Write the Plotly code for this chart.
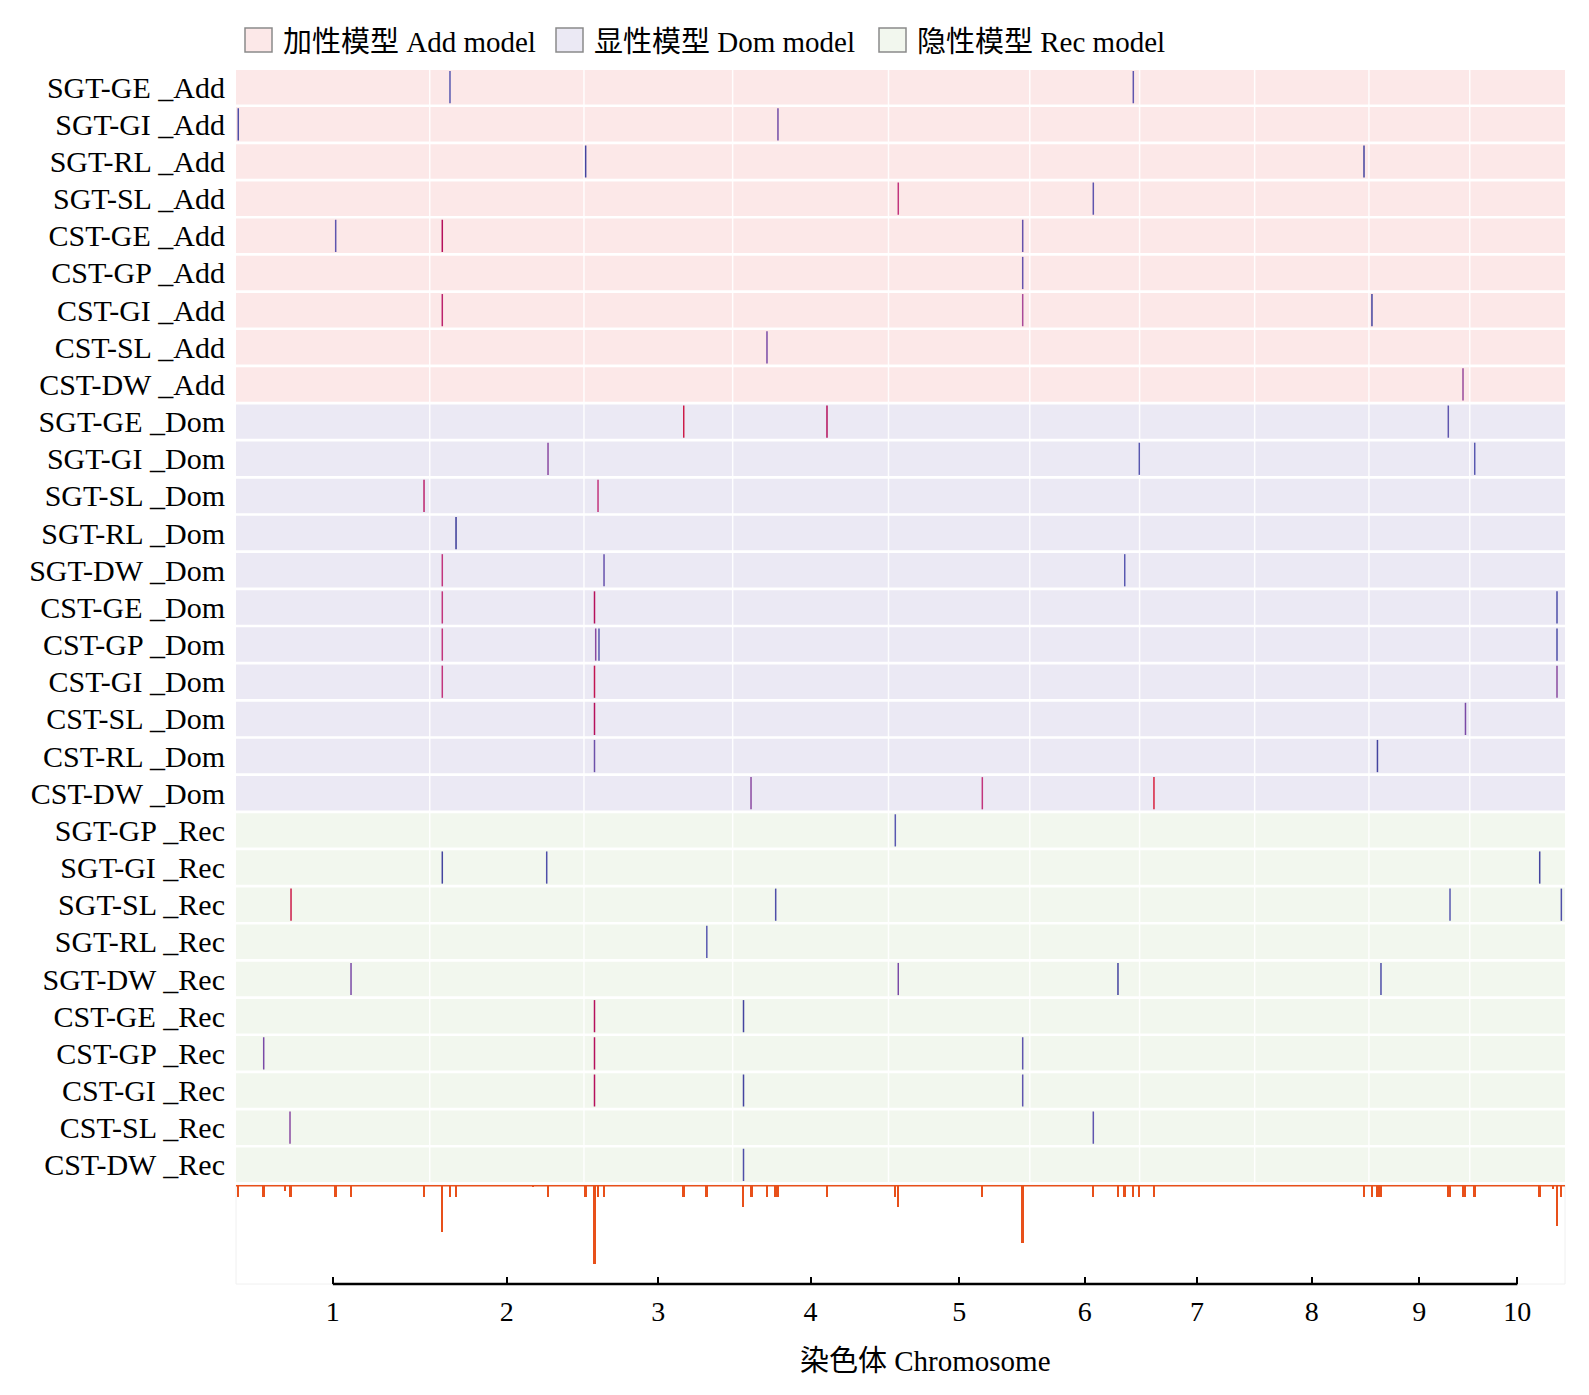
import numpy as np
import plotly.graph_objects as go

# maize B73 chromosome lengths (Mb)
chrom_len = [307.04, 244.44, 235.67, 246.99, 223.90, 174.03, 182.38, 181.12, 159.77, 150.98]
chrom_names = ["1", "2", "3", "4", "5", "6", "7", "8", "9", "10"]

traits = [
    "SGT-GE _Add", "SGT-GI _Add", "SGT-RL _Add", "SGT-SL _Add", "CST-GE _Add",
    "CST-GP _Add", "CST-GI _Add", "CST-SL _Add", "CST-DW _Add",
    "SGT-GE _Dom", "SGT-GI _Dom", "SGT-SL _Dom", "SGT-RL _Dom", "SGT-DW _Dom",
    "CST-GE _Dom", "CST-GP _Dom", "CST-GI _Dom", "CST-SL _Dom", "CST-RL _Dom", "CST-DW _Dom",
    "SGT-GP _Rec", "SGT-GI _Rec", "SGT-SL _Rec", "SGT-RL _Rec", "SGT-DW _Rec",
    "CST-GE _Rec", "CST-GP _Rec", "CST-GI _Rec", "CST-SL _Rec", "CST-DW _Rec",
]
trait_model = ["Add"] * 9 + ["Dom"] * 11 + ["Rec"] * 10

# significant SNPs: row of trait, chromosome, position (Mb), colour score
mark_row = [0, 0, 1, 1, 2, 2, 3, 3, 4, 4, 4, 5, 6, 6, 6, 7, 8,
            9, 9, 9, 10, 10, 10, 11, 11, 12, 13, 13, 13, 14, 14, 14,
            15, 15, 15, 15, 16, 16, 16, 17, 17, 18, 18, 19, 19, 19,
            20, 21, 21, 21, 22, 22, 22, 22, 23, 24, 24, 24, 24,
            25, 25, 26, 26, 26, 27, 27, 27, 28, 28, 29]
mark_chr = [2, 6, 1, 4, 3, 8, 5, 6, 1, 2, 5, 5, 2, 5, 9, 4, 9,
            3, 4, 9, 2, 6, 10, 1, 3, 2, 2, 3, 6, 2, 3, 10,
            2, 3, 3, 10, 2, 3, 10, 3, 9, 3, 9, 4, 5, 7,
            5, 2, 2, 10, 1, 4, 9, 10, 3, 1, 5, 6, 9,
            3, 4, 1, 3, 5, 3, 4, 5, 1, 6, 4]
mark_pos = [32.1, 164.1, 3.6, 71.8, 2.7, 173.3, 15.5, 100.7, 158.0, 19.9, 212.7, 212.7,
            19.9, 212.7, 4.8, 54.4, 149.1,
            158.1, 149.5, 125.8, 187.5, 173.6, 7.9, 298.0, 22.3, 41.7, 19.9, 31.8, 150.5,
            19.9, 16.7, 138.3, 19.9, 18.6, 23.8, 138.3, 19.9, 16.7, 138.3, 16.7, 153.0,
            16.7, 13.5, 29.1, 148.7, 22.8,
            10.8, 19.9, 185.4, 110.9, 87.2, 68.2, 128.5, 145.2, 194.7, 182.3, 15.5, 139.8, 19.1,
            16.7, 17.2, 43.9, 16.7, 212.7, 16.7, 17.2, 212.7, 85.6, 100.7, 17.2]
mark_score = [0.2, 0.25, 0.15, 0.4, 0.1, 0.1, 0.75, 0.25, 0.25, 0.85, 0.3, 0.3,
              0.8, 0.6, 0.1, 0.45, 0.55,
              0.95, 0.85, 0.25, 0.5, 0.2, 0.2, 0.8, 0.75, 0.05, 0.75, 0.3, 0.2,
              0.75, 0.85, 0.15, 0.75, 0.5, 0.2, 0.15, 0.75, 0.9, 0.5, 0.85, 0.45,
              0.35, 0.1, 0.5, 0.75, 1.0,
              0.2, 0.1, 0.15, 0.1, 0.95, 0.15, 0.2, 0.15, 0.2, 0.45, 0.45, 0.1, 0.15,
              0.85, 0.1, 0.45, 0.85, 0.25, 0.85, 0.1, 0.25, 0.5, 0.25, 0.15]

# SNP density track under the panel
dens_chr = [1, 1, 1, 1, 1, 1, 1, 2, 2, 2, 2, 2, 3, 3, 3, 3, 3, 3,
            4, 4, 4, 4, 4, 4, 5, 5, 5, 5, 6, 6, 6, 6, 6, 7, 8,
            9, 9, 9, 9, 9, 9, 9, 10, 10, 10, 10, 10]
dens_pos = [3.6, 43.9, 77.7, 86.7, 158.0, 182.3, 298.0, 19.9, 32.1, 41.7, 163.7, 187.5,
            2.7, 17.4, 22.3, 31.8, 158.1, 194.7,
            17.2, 30.1, 54.4, 68.2, 71.8, 149.5, 10.8, 15.5, 148.7, 212.7,
            100.7, 139.8, 150.5, 164.1, 173.6, 22.8, 173.3,
            4.8, 14.2, 19.0, 125.8, 128.5, 149.1, 153.0, 7.9, 110.9, 132.5, 138.3, 145.2]
dens_val = [1, 1, 0.5, 1, 1, 1, 1, 3.9, 1, 1, 0.15, 1,
            1, 6.6, 1, 1, 1, 1,
            1.8, 1, 1, 1, 1, 1, 1, 1.8, 1, 4.8,
            1, 1, 1, 1, 1, 1, 1,
            1, 1, 1, 1, 1, 1, 1, 1, 1, 0.3, 3.4, 1]

legend_labels = {"Add": "加性模型 Add model", "Dom": "显性模型 Dom model", "Rec": "隐性模型 Rec model"}
band_colors = {"Add": "#fce8e8", "Dom": "#ebe9f4", "Rec": "#f2f7ee"}

FONT = "Liberation Serif, Times New Roman, Noto Sans CJK SC"
PAGE = 8  # default body margin of the html page
W, H = 1589 - 2 * PAGE, 1395 - 2 * PAGE
ML, MR, MT, MB = 236 - PAGE, 16, 60 - PAGE, 103
PW, PH = W - ML - MR, H - MT - MB


def px_x(x):
    # screen pixel -> paper fraction
    return (x - PAGE - ML) / PW


def px_y(y):
    return (H - MB - (y - PAGE)) / PH


offsets = np.concatenate([[0], np.cumsum(chrom_len)[:-1]])
centers = offsets + np.array(chrom_len) / 2
genome_len = float(np.sum(chrom_len))

mark_x = offsets[np.array(mark_chr) - 1] + np.array(mark_pos)
dens_x = offsets[np.array(dens_chr) - 1] + np.array(dens_pos)

fig = go.Figure()

fig.add_trace(go.Scatter(
    x=mark_x, y=mark_row, mode="markers", showlegend=False, hoverinfo="skip",
    marker=dict(symbol="line-ns", size=23,
                line=dict(width=1.5, color=mark_score, cmin=0, cmax=1,
                          colorscale=[[0, "#30308e"], [0.2, "#5858b0"], [0.45, "#7a4aa6"],
                                      [0.7, "#c8488e"], [0.85, "#b5105c"], [1, "#d8203e"]])),
    xaxis="x", yaxis="y",
))

fig.add_trace(go.Bar(
    x=dens_x, y=dens_val, width=3.0, marker=dict(color="#e8501a", line=dict(width=0)),
    showlegend=False, hoverinfo="skip", xaxis="x", yaxis="y2",
))

shapes = []
# background bands per trait
for i, m in enumerate(trait_model):
    shapes.append(dict(type="rect", xref="paper", yref="y", x0=0, x1=1, y0=i - 0.464, y1=i + 0.464,
                       fillcolor=band_colors[m], line=dict(width=0), layer="below"))
# chromosome boundaries
for b in offsets[1:]:
    shapes.append(dict(type="line", xref="x", yref="y domain", x0=b, x1=b, y0=0, y1=1,
                       line=dict(color="rgba(255,255,255,0.9)", width=1.5), layer="below"))
# density panel frame, baseline and axis line
shapes.append(dict(type="rect", xref="paper", yref="y2 domain", x0=0, x1=1, y0=0, y1=1,
                   line=dict(color="#f0f0f0", width=1), layer="below"))
shapes.append(dict(type="line", xref="paper", yref="y2", x0=0, x1=1, y0=0, y1=0,
                   line=dict(color="#e8501a", width=3)))
shapes.append(dict(type="line", xref="x", yref="y2 domain", x0=centers[0], x1=centers[-1], y0=0, y1=0,
                   line=dict(color="black", width=2.6)))

annotations = []
# legend drawn by hand to get the large boxes
legend_box_x = [245, 556, 879]
for (m, lab), bx in zip(legend_labels.items(), legend_box_x):
    shapes.append(dict(type="rect", xref="paper", yref="paper",
                       x0=px_x(bx), x1=px_x(bx + 27), y0=px_y(52), y1=px_y(28),
                       fillcolor=band_colors[m], line=dict(color="#8a8a8a", width=1.5)))
    annotations.append(dict(text=lab, xref="paper", yref="paper", x=px_x(bx + 36), y=px_y(42),
                            xanchor="left", yanchor="middle", showarrow=False,
                            font=dict(family=FONT, size=29, color="black")))
annotations.append(dict(text="染色体 Chromosome", xref="x", yref="paper",
                        x=(centers[0] + centers[-1]) / 2, y=px_y(1361),
                        xanchor="center", yanchor="middle", showarrow=False,
                        font=dict(family=FONT, size=29, color="black")))

row_top, row_bot = 68.6, 1183.4
fig.update_layout(
    width=W, height=H,
    margin=dict(l=ML, r=MR, t=MT, b=MB),
    paper_bgcolor="white", plot_bgcolor="white",
    font=dict(family=FONT, color="black"),
    bargap=0, barmode="overlay",
    shapes=shapes, annotations=annotations,
    xaxis=dict(range=[0, genome_len], anchor="y2", tickvals=centers, ticktext=chrom_names,
               ticks="inside", ticklen=7, tickwidth=2.4, tickcolor="black",
               tickfont=dict(family=FONT, size=28), ticklabelstandoff=8,
               showgrid=False, zeroline=False, showline=False),
    yaxis=dict(domain=[px_y(row_bot), px_y(row_top)], range=[29.5, -0.5], anchor="x",
               tickvals=list(range(len(traits))), ticktext=traits, ticks="",
               tickfont=dict(family=FONT, size=30), ticklabelstandoff=10,
               showgrid=False, zeroline=False, showline=False),
    yaxis2=dict(domain=[0, px_y(1185)], range=[99 / 12, 0], anchor="x",
                showticklabels=False, ticks="", showgrid=False, zeroline=False, showline=False),
)

fig.write_html("out.html")
